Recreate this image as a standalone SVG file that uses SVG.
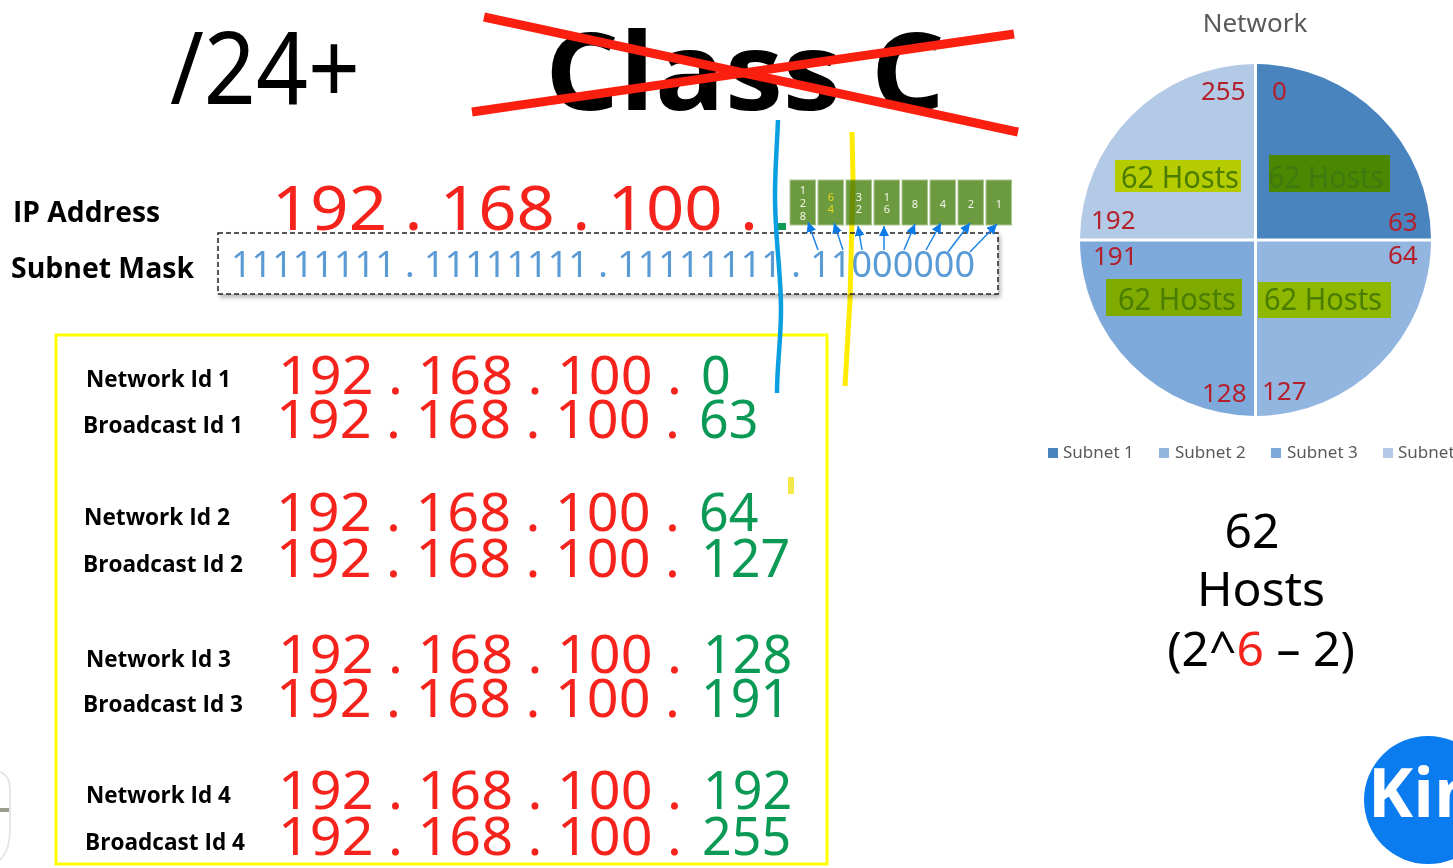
<svg xmlns="http://www.w3.org/2000/svg" width="1453" height="868" viewBox="0 0 1453 868">
<defs>
<marker id="ah" markerUnits="userSpaceOnUse" markerWidth="11" markerHeight="10" refX="10" refY="5" orient="auto"><path d="M0 0L10 5L0 10Z" fill="#0a7ae8"/></marker>
<filter id="sh" x="-2%" y="-10%" width="104%" height="125%"><feDropShadow dx="2" dy="3" stdDeviation="2" flood-color="#000" flood-opacity=".3"/></filter>
<clipPath id="pg"><rect width="1453" height="868"/></clipPath>
</defs>
<style>
text{font-family:"Noto Sans","Open Sans","DejaVu Sans",sans-serif}
.r{font-size:52px;fill:#f5231c}
.g{font-size:52px;fill:#0a9a55}
.l{font-size:23px;font-weight:700;fill:#000;font-family:"Open Sans","Noto Sans",sans-serif}
.m{font-size:28px;font-weight:700;fill:#000;font-family:"Open Sans","Noto Sans",sans-serif}
.p{font-size:26px;fill:#b3202b}
.h{font-size:31px;fill:#4a7d00}
.lg{font-size:17px;fill:#595959}
.b{font-size:11px;fill:#f2f6ea;text-anchor:middle}
.c{fill:#6c9a3e;stroke:#a9c48d;stroke-width:1}
.a{stroke:#1d84e6;stroke-width:1.5;fill:none;marker-end:url(#ah)}
.big{font-size:48px;fill:#000;text-anchor:middle}
</style>
<rect width="1453" height="868" fill="#fff"/>

<g id="title-24"><text x="170" y="104" font-size="100" fill="#000" textLength="190" lengthAdjust="spacingAndGlyphs">/24+</text></g>
<g id="title-classc">
<text x="545" y="110" font-size="108" font-weight="700" fill="#000" style="font-family:'Open Sans','Noto Sans',sans-serif" textLength="400" lengthAdjust="spacingAndGlyphs">Class C</text>
<path d="M484 17L1018 132M472 112L1014 34" stroke="#fb1f10" stroke-width="9" fill="none"/>
</g>

<g id="ip-address">
<text class="m" x="13" y="222" textLength="147" lengthAdjust="spacingAndGlyphs">IP Address</text>
<text x="272" y="230" font-size="62" fill="#f5231c" textLength="486" lengthAdjust="spacingAndGlyphs">192 . 168 . 100 .</text>
<rect x="778" y="223" width="8" height="7" fill="#0a9a55"/>
</g>

<g id="bits">
<rect class="c" x="790" y="180" width="25.500" height="45"/><rect class="c" x="818" y="180" width="25.500" height="45"/><rect class="c" x="846" y="180" width="25.500" height="45"/><rect class="c" x="874" y="180" width="25.500" height="45"/><rect class="c" x="902" y="180" width="25.500" height="45"/><rect class="c" x="930" y="180" width="25.500" height="45"/><rect class="c" x="958" y="180" width="25.500" height="45"/><rect class="c" x="986" y="180" width="25.500" height="45"/>
<text class="b" x="803" y="194">1</text><text class="b" x="803" y="207">2</text><text class="b" x="803" y="220">8</text>
<text class="b" x="831" y="201" style="fill:#e8d820">6</text><text class="b" x="831" y="213" style="fill:#e8d820">4</text>
<text class="b" x="859" y="201">3</text><text class="b" x="859" y="213">2</text>
<text class="b" x="887" y="201">1</text><text class="b" x="887" y="213">6</text>
<text class="b" x="915" y="208">8</text><text class="b" x="943" y="208">4</text><text class="b" x="971" y="208">2</text><text class="b" x="999" y="208">1</text>
</g>

<g id="subnet-mask">
<text class="m" x="11" y="278" textLength="183" lengthAdjust="spacingAndGlyphs">Subnet Mask</text>
<rect x="218" y="233" width="780" height="61" fill="#fff" stroke="#222" stroke-width="1.500" stroke-dasharray="5 3" filter="url(#sh)"/>
<text x="231" y="277" font-size="37" fill="#5b9bd5" textLength="744" lengthAdjust="spacingAndGlyphs">11111111 . 11111111 . 11111111 . 11000000</text>
</g>

<g id="connectors">
<path class="a" d="M818 250L808 222"/><path class="a" d="M843 250L834 223"/><path class="a" d="M862 250L858 226"/><path class="a" d="M884 250L884 226"/><path class="a" d="M904 250L915 224"/><path class="a" d="M926 250L941 223"/><path class="a" d="M948 252L970 223"/><path class="a" d="M970 252L997 224"/>
</g>

<g id="subnet-table">
<rect x="56" y="335" width="771" height="529" fill="none" stroke="#ffff00" stroke-width="3"/>
</g>
<g id="row-net1"><text class="l" x="86" y="387" textLength="145" lengthAdjust="spacingAndGlyphs">Network Id 1</text><text class="r" x="278" y="394" textLength="404" lengthAdjust="spacingAndGlyphs">192 . 168 . 100 .</text><text class="g" x="701" y="394">0</text></g>
<g id="row-bc1"><text class="l" x="83" y="433" textLength="160" lengthAdjust="spacingAndGlyphs">Broadcast Id 1</text><text class="r" x="276" y="438" textLength="404" lengthAdjust="spacingAndGlyphs">192 . 168 . 100 .</text><text class="g" x="699" y="438">63</text></g>
<g id="row-net2"><text class="l" x="84" y="525" textLength="146" lengthAdjust="spacingAndGlyphs">Network Id 2</text><text class="r" x="276" y="531" textLength="404" lengthAdjust="spacingAndGlyphs">192 . 168 . 100 .</text><text class="g" x="699" y="531">64</text></g>
<g id="row-bc2"><text class="l" x="83" y="572" textLength="160" lengthAdjust="spacingAndGlyphs">Broadcast Id 2</text><text class="r" x="276" y="577" textLength="404" lengthAdjust="spacingAndGlyphs">192 . 168 . 100 .</text><text class="g" x="701" y="577">127</text></g>
<g id="row-net3"><text class="l" x="86" y="667" textLength="145" lengthAdjust="spacingAndGlyphs">Network Id 3</text><text class="r" x="278" y="673" textLength="404" lengthAdjust="spacingAndGlyphs">192 . 168 . 100 .</text><text class="g" x="703" y="673">128</text></g>
<g id="row-bc3"><text class="l" x="83" y="712" textLength="160" lengthAdjust="spacingAndGlyphs">Broadcast Id 3</text><text class="r" x="276" y="717" textLength="404" lengthAdjust="spacingAndGlyphs">192 . 168 . 100 .</text><text class="g" x="701" y="717">191</text></g>
<g id="row-net4"><text class="l" x="86" y="803" textLength="145" lengthAdjust="spacingAndGlyphs">Network Id 4</text><text class="r" x="278" y="809" textLength="404" lengthAdjust="spacingAndGlyphs">192 . 168 . 100 .</text><text class="g" x="703" y="809">192</text></g>
<g id="row-bc4"><text class="l" x="85" y="850" textLength="160" lengthAdjust="spacingAndGlyphs">Broadcast Id 4</text><text class="r" x="278" y="855" textLength="404" lengthAdjust="spacingAndGlyphs">192 . 168 . 100 .</text><text class="g" x="702" y="855">255</text></g>

<g id="pen-marks">
<path d="M778 120C777 145 775 170 775 195C775 240 781 270 781 310C781 340 777 365 777 393" fill="none" stroke="#0a9fe0" stroke-width="4.500"/>
<path d="M852 132L853 180L850 300L845 386" fill="none" stroke="#ffec00" stroke-width="5" style="mix-blend-mode:multiply"/>
<rect x="788" y="477" width="6" height="17" fill="#f2e84a"/>
</g>

<g id="pie">
<text x="1255" y="32" font-size="26" fill="#595959" text-anchor="middle">Network</text>
<path d="M1257 64A176 176 0 0 1 1431 238.500H1257Z" fill="#4a84bf"/>
<path d="M1257 241.500H1431A176 176 0 0 1 1257 416Z" fill="#93b6e0"/>
<path d="M1254 416A176 176 0 0 1 1080 241.500H1254Z" fill="#7ea9db"/>
<path d="M1080 238.500A176 176 0 0 1 1254 64V238.500Z" fill="#b3cae6"/>
</g>
<g id="pie-labels">
<rect x="1115" y="160" width="126" height="32" fill="#b5cc00"/><rect x="1269" y="155" width="121" height="37" fill="#4b8700"/><rect x="1106" y="279" width="136" height="37" fill="#7fab00"/><rect x="1258" y="282" width="133" height="36" fill="#8fb800"/>
<text class="h" x="1121" y="188" textLength="118" lengthAdjust="spacingAndGlyphs">62 Hosts</text>
<text class="h" x="1268" y="188" textLength="116" lengthAdjust="spacingAndGlyphs" style="fill:#3f7a10">62 Hosts</text>
<text class="h" x="1118" y="310" textLength="118" lengthAdjust="spacingAndGlyphs">62 Hosts</text>
<text class="h" x="1264" y="310" textLength="118" lengthAdjust="spacingAndGlyphs">62 Hosts</text>
<text class="p" x="1201" y="100">255</text><text class="p" x="1272" y="100">0</text><text class="p" x="1388" y="231">63</text><text class="p" x="1091" y="229">192</text><text class="p" x="1093" y="265">191</text><text class="p" x="1388" y="264">64</text><text class="p" x="1202" y="402">128</text><text class="p" x="1262" y="400">127</text>
</g>
<g id="legend">
<rect x="1048" y="448" width="10" height="10" fill="#4a84bf"/><text class="lg" x="1063" y="458">Subnet 1</text>
<rect x="1159" y="448" width="10" height="10" fill="#93b6e0"/><text class="lg" x="1175" y="458">Subnet 2</text>
<rect x="1271" y="448" width="10" height="10" fill="#7ea9db"/><text class="lg" x="1287" y="458">Subnet 3</text>
<rect x="1383" y="448" width="10" height="10" fill="#b3cae6"/><text class="lg" x="1398" y="458">Subnet 4</text>
</g>

<g id="hosts-note">
<text class="big" x="1252" y="548">62</text>
<text class="big" x="1261" y="606">Hosts</text>
<text class="big" x="1261" y="666">(2^<tspan fill="#f5231c">6</tspan> – 2)</text>
</g>

<g id="logo">
<circle cx="1428" cy="800" r="64" fill="#0a7cf0"/>
<text x="1368" y="817" font-size="68" font-weight="700" fill="#fff" style="font-family:'Open Sans',sans-serif">Kin</text>
</g>
<g id="left-mark">
<path d="M0 772Q10 775 10 790V830Q10 850 0 860" fill="none" stroke="#e6e6e6" stroke-width="2"/>
<rect x="0" y="808" width="9" height="4" fill="#9c9c8c"/>
</g>
</svg>
